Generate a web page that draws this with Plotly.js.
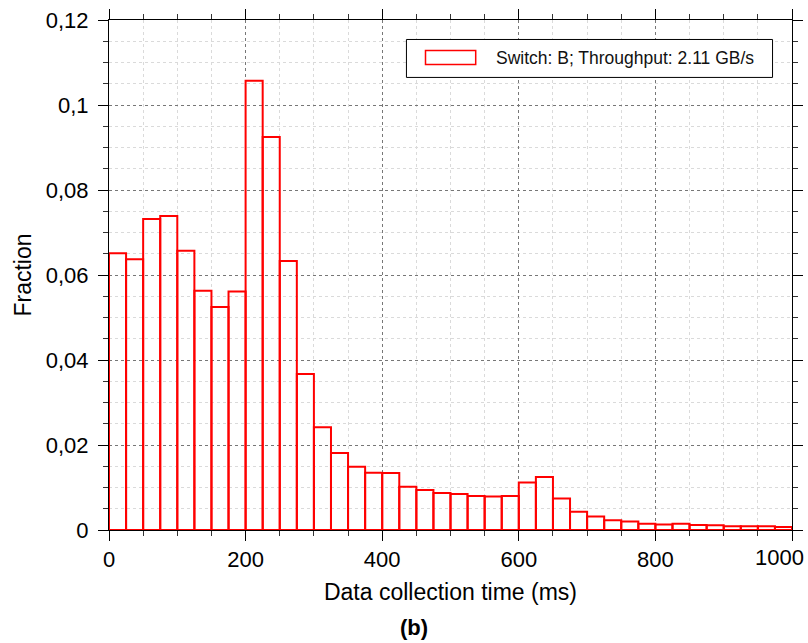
<!DOCTYPE html>
<html>
<head>
<meta charset="utf-8">
<script src="https://cdn.plot.ly/plotly-3.0.1.min.js"></script>
<style>
html,body{margin:0;padding:0;background:#fff;}
#chart{width:808px;height:643px;}
</style>
</head>
<body>
<div id="chart"></div>
<script>
// Bin lower edges (ms), bin width 25 ms
const binStart = [0,25,50,75,100,125,150,175,200,225,250,275,300,325,350,375,400,425,450,475,
                  500,525,550,575,600,625,650,675,700,725,750,775,800,825,850,875,900,925,950,975];
const binWidth = 25;
// Fraction per bin
const fraction = [0.0651,0.0637,0.0732,0.0739,0.0657,0.0563,0.0525,0.0561,0.1057,0.0925,
                  0.0633,0.0367,0.0242,0.0181,0.0149,0.0135,0.0134,0.0102,0.0094,0.0087,
                  0.0085,0.0080,0.0079,0.0080,0.0112,0.0125,0.0074,0.0043,0.0032,0.0023,
                  0.0020,0.0015,0.0013,0.0015,0.0012,0.0011,0.0009,0.0009,0.0009,0.0007];
const seriesName = "Switch: B; Throughput: 2.11 GB/s";
const yTickVals = [0,0.02,0.04,0.06,0.08,0.1,0.12];
const yTickText = ["0","0,02","0,04","0,06","0,08","0,1","0,12"];
const xTickVals = [0,200,400,600,800,1000];
const xTickText = ["0","200","400","600","800","1000"];

const FONT = "Liberation Sans, Arial, sans-serif";

const trace = {
  type: "bar",
  x: binStart,
  y: fraction,
  width: binStart.map(() => binWidth),
  offset: 0,
  name: seriesName,
  marker: {color: "rgba(0,0,0,0)", line: {color: "#ff0000", width: 2}},
  showlegend: false,
  hoverinfo: "x+y"
};

// the last x label sits flush with the figure edge (drawn as an annotation so it is not clipped)
const lastIdx = xTickText.length - 1;
const xTickTextShown = xTickText.map((t, i) => (i === lastIdx ? "" : t));

// legend drawn in paper coordinates
const lg = {x0: 0.4355, x1: 0.9715, y0: 0.8874, y1: 0.9618,
            sx0: 0.4634, sx1: 0.5369, sy0: 0.9129, sy1: 0.9403, tx: 0.5635, ty: 0.9256};

const layout = {
  width: 808, height: 643,
  margin: {l: 109, r: 15.5, t: 19.5, b: 112.7},
  paper_bgcolor: "#fff",
  plot_bgcolor: "#fff",
  font: {family: FONT, color: "#000"},
  bargap: 0,
  xaxis: {
    range: [0, 1000],
    tickmode: "array", tickvals: xTickVals, ticktext: xTickTextShown,
    ticks: "outside", ticklen: 10, tickwidth: 1, tickcolor: "#000",
    showline: true, linecolor: "#000", linewidth: 1, mirror: "allticks",
    showgrid: true, gridcolor: "#777", griddash: "dot", gridwidth: 1,
    zeroline: false,
    tickfont: {size: 22, family: FONT, color: "#000"},
    minor: {dtick: 50, ticks: "outside", ticklen: 5, tickcolor: "#333", showgrid: true,
            gridcolor: "#dadada", griddash: "dot", gridwidth: 1},
    title: {text: "Data collection time (ms)", font: {size: 23, family: FONT, color: "#000"}, standoff: 12},
    automargin: false
  },
  yaxis: {
    range: [0, 0.12],
    tickmode: "array", tickvals: yTickVals, ticktext: yTickText,
    ticks: "outside", ticklen: 10, tickwidth: 1, tickcolor: "#000",
    ticklabelstandoff: 5,
    showline: true, linecolor: "#000", linewidth: 1, mirror: "allticks",
    showgrid: true, gridcolor: "#777", griddash: "dot", gridwidth: 1,
    zeroline: false,
    tickfont: {size: 22, family: FONT, color: "#000"},
    minor: {dtick: 0.005, ticks: "outside", ticklen: 5, tickcolor: "#333", showgrid: true,
            gridcolor: "#dadada", griddash: "dot", gridwidth: 1},
    title: {text: "Fraction", font: {size: 23, family: FONT, color: "#000"}, standoff: 7},
    automargin: false
  },
  shapes: [
    {type: "rect", xref: "paper", yref: "paper", x0: lg.x0, x1: lg.x1, y0: lg.y0, y1: lg.y1,
     line: {color: "#000", width: 1}, fillcolor: "#fff", layer: "above"},
    {type: "rect", xref: "paper", yref: "paper", x0: lg.sx0, x1: lg.sx1, y0: lg.sy0, y1: lg.sy1,
     line: {color: "#ff0000", width: 1.5}, fillcolor: "rgba(0,0,0,0)", layer: "above"}
  ],
  annotations: [
    {xref: "paper", yref: "paper", x: lg.tx, y: lg.ty, xanchor: "left", yanchor: "middle",
     text: seriesName, showarrow: false, font: {size: 17.5, family: FONT, color: "#111"}},
    {xref: "paper", yref: "paper", x: 0.4462, y: -0.191, xanchor: "center", yanchor: "middle",
     text: "<b>(b)</b>", showarrow: false, font: {size: 22, family: FONT, color: "#000"}},
    {xref: "paper", yref: "paper", x: 1.0185, y: -0.0535, xanchor: "right", yanchor: "middle",
     text: xTickText[lastIdx], showarrow: false, font: {size: 22, family: FONT, color: "#000"},
     borderpad: 0}
  ]
};

Plotly.newPlot("chart", [trace], layout, {displayModeBar: false, staticPlot: true});
</script>
</body>
</html>
